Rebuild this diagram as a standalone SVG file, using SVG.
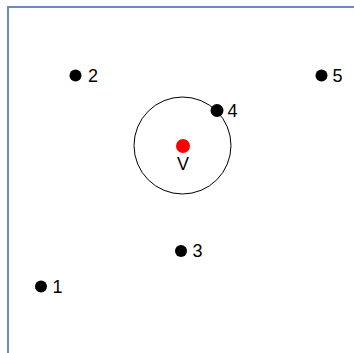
<svg xmlns="http://www.w3.org/2000/svg" width="354" height="353" viewBox="0 0 354 353">
<style>
.pt{fill:#000}
.lbl{font-family:"Liberation Sans",Arial,sans-serif;font-size:18px;fill:#000}
</style>
<rect width="354" height="353" fill="#fff"/>
<path d="M8,353 V7 H354" fill="none" stroke="#6a8cc8" stroke-width="2"/>
<g id="connectors"></g>
<g id="circle"><circle cx="182.5" cy="145.5" r="48.5" fill="none" stroke="#000" stroke-width="1"/></g>
<g id="v"><circle cx="183" cy="146" r="7" fill="#ff0000"/><text class="lbl" x="183" y="170" text-anchor="middle">V</text></g>
<g id="p1"><circle class="pt" cx="41" cy="286.5" r="6"/><text class="lbl" x="52.5" y="292.5">1</text></g>
<g id="p2"><circle class="pt" cx="75.5" cy="75.5" r="6"/><text class="lbl" x="88" y="82">2</text></g>
<g id="p3"><circle class="pt" cx="181" cy="251" r="6"/><text class="lbl" x="192.5" y="257">3</text></g>
<g id="p4"><circle class="pt" cx="217" cy="110.5" r="6.5"/><text class="lbl" x="227.5" y="116.5">4</text></g>
<g id="p5"><circle class="pt" cx="321.5" cy="75.5" r="6"/><text class="lbl" x="332.5" y="82">5</text></g>
</svg>
